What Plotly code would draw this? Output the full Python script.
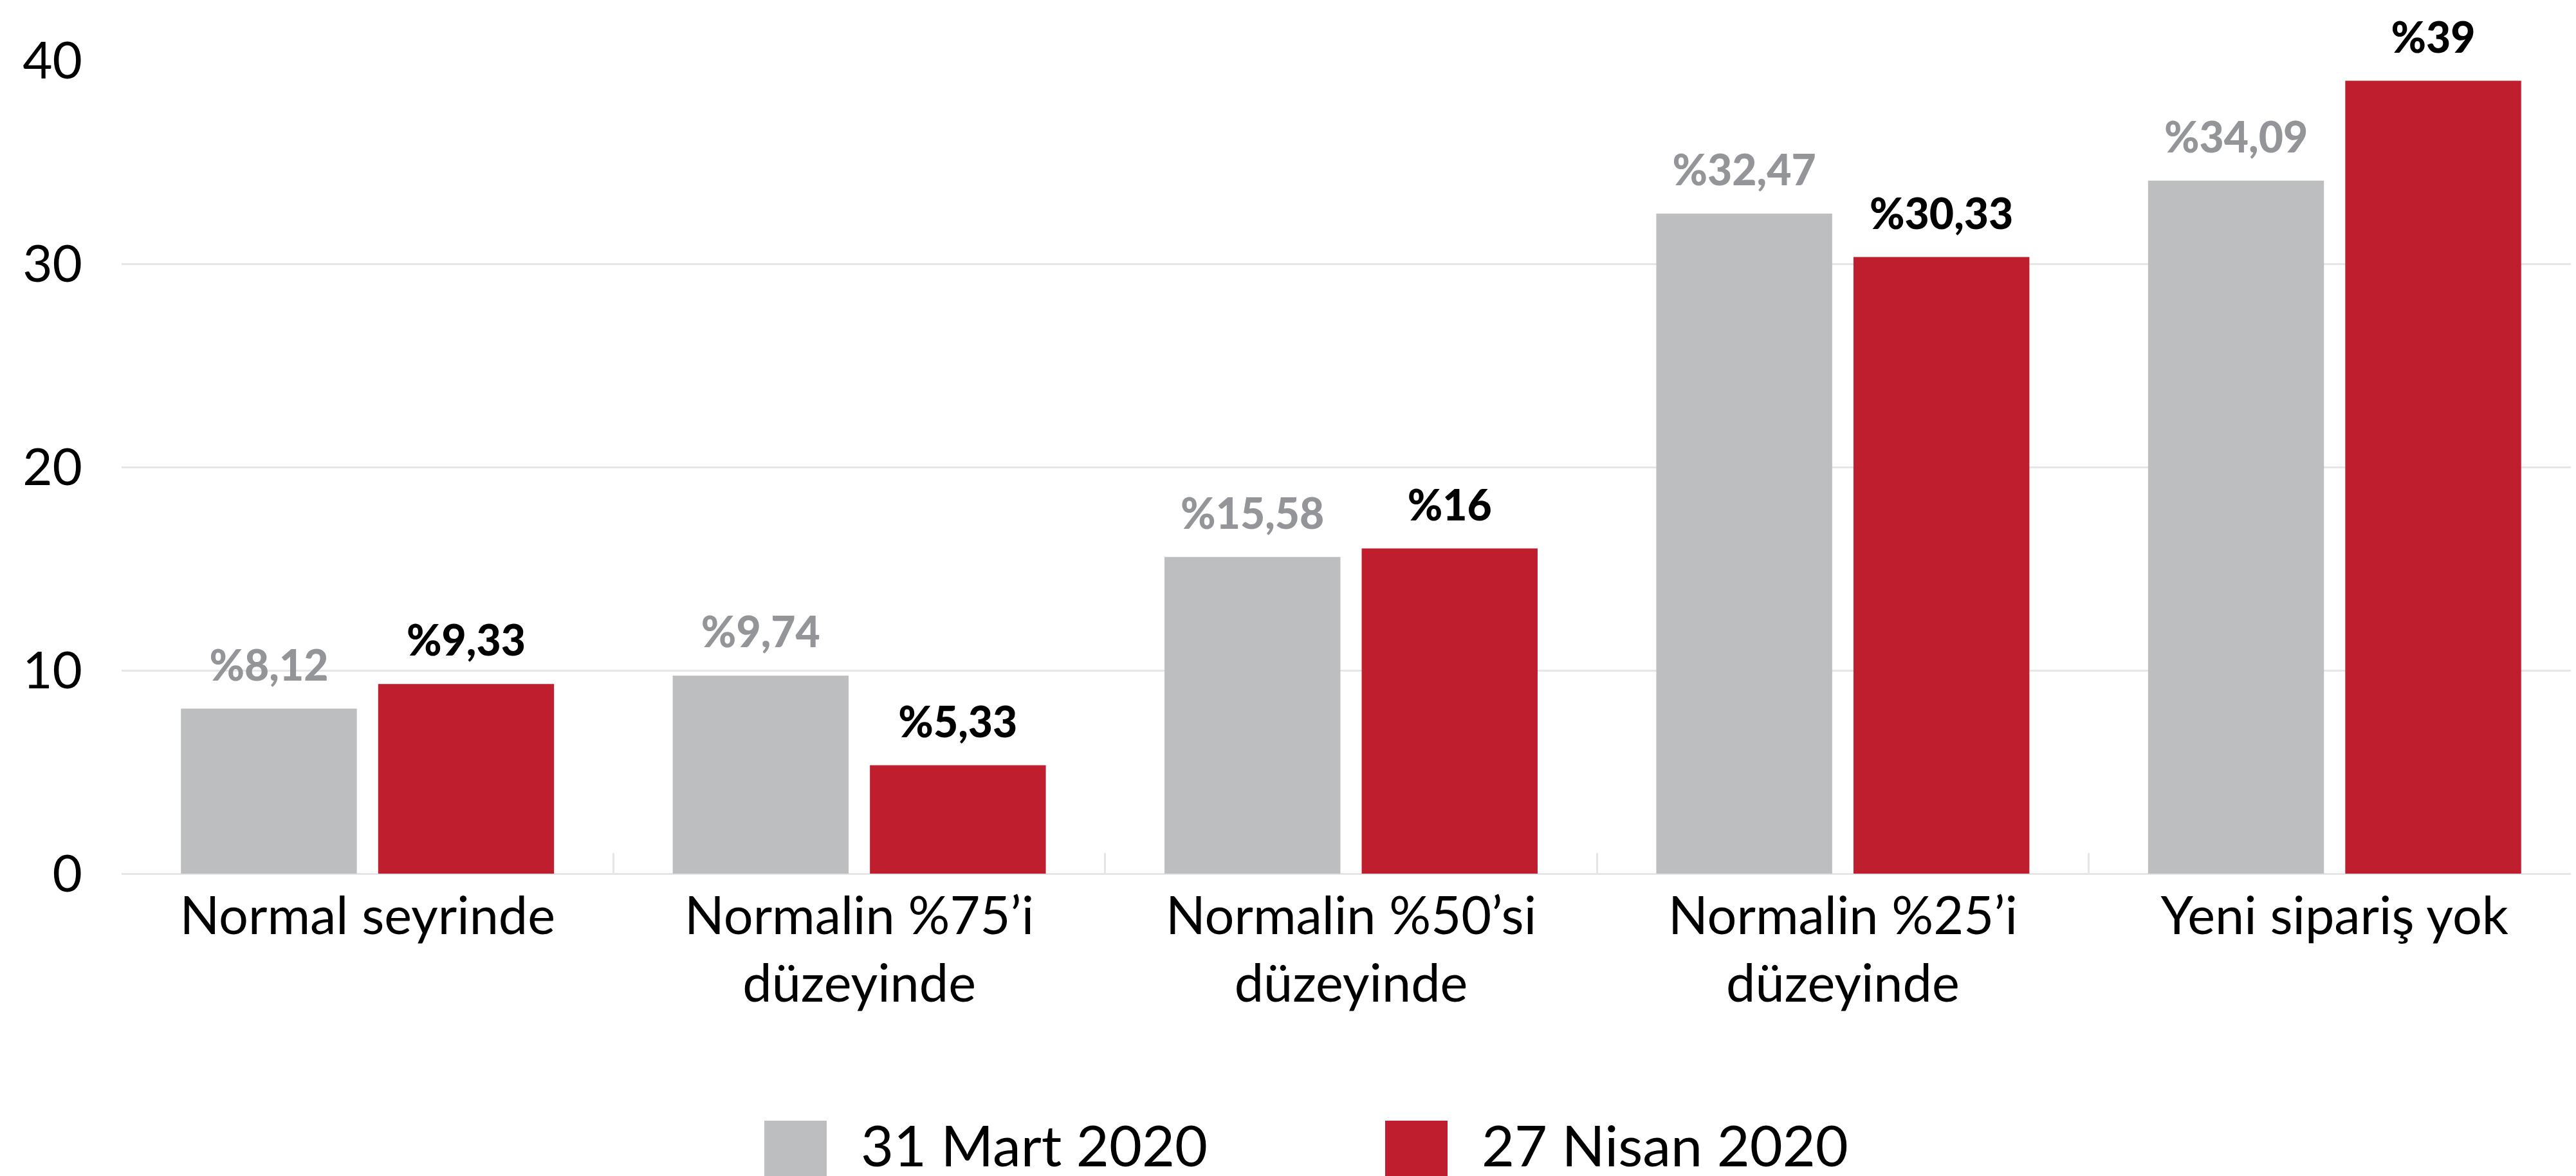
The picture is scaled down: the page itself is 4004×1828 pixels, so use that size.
import plotly.graph_objects as go

categories = [
    "Normal seyrinde",
    "Normalin %75’i<br>düzeyinde",
    "Normalin %50’si<br>düzeyinde",
    "Normalin %25’i<br>düzeyinde",
    "Yeni sipariş yok",
]
series_names = ["31 Mart 2020", "27 Nisan 2020"]
mart_values = [8.12, 9.74, 15.58, 32.47, 34.09]
nisan_values = [9.33, 5.33, 16, 30.33, 39]
y_ticks = [0, 10, 20, 30, 40]

GREY = "#bcbec0"
RED = "#be1e2d"
LABEL_GREY = "#939598"
GRID = "#e6e6e6"
FONT = "Lato"

# plot area in pixels (figure is 4004x1828)
W, H = 4004, 1828
L, R, T, B = 181, 1, 86, 478
PW, PH = W - L - R, H - T - B

BARGAP = 0.198


def pct(v):
    return "%" + f"{v:g}".replace(".", ",")


def px_x(p):
    return (p - L) / PW


def px_y(p):
    return (H - B - p) / PH


fig = go.Figure()
for name, vals, color, tcolor in [
    (series_names[0], mart_values, GREY, LABEL_GREY),
    (series_names[1], nisan_values, RED, "#000000"),
]:
    fig.add_trace(
        go.Bar(
            x=categories,
            y=vals,
            name=name,
            marker={"color": color, "line": {"width": 0}},
            offsetgroup=name,
            showlegend=False,
            hoverinfo="skip",
        )
    )
    # value labels above the bars
    fig.add_trace(
        go.Scatter(
            x=categories,
            y=vals,
            mode="markers+text",
            text=[pct(v) for v in vals],
            textposition="top center",
            textfont={"family": FONT, "size": 66, "color": tcolor, "weight": 900},
            marker={"size": 42, "opacity": 0},
            offsetgroup=name,
            cliponaxis=False,
            showlegend=False,
            hoverinfo="skip",
        )
    )

# hand-made legend with big square swatches
legend_items = [
    (series_names[0], GREY, 1180, 1328),
    (series_names[1], RED, 2145, 2293),
]
for name, color, box_left, text_left in legend_items:
    fig.add_shape(
        type="rect",
        xref="paper",
        yref="paper",
        x0=px_x(box_left),
        x1=px_x(box_left + 97),
        y0=px_y(1734),
        y1=px_y(1840),
        fillcolor=color,
        line={"width": 0},
    )
    fig.add_annotation(
        xref="paper",
        yref="paper",
        x=px_x(text_left),
        y=px_y(1771),
        xanchor="left",
        yanchor="middle",
        text=name,
        showarrow=False,
        font={"family": FONT, "size": 88, "color": "#000000"},
    )

fig.update_layout(
    width=W,
    height=H,
    margin={"l": L, "r": R, "t": T, "b": B, "pad": 0},
    paper_bgcolor="white",
    plot_bgcolor="white",
    barmode="group",
    bargap=BARGAP,
    bargroupgap=0.108,
    scattermode="group",
    scattergap=BARGAP,
    showlegend=False,
    font={"family": FONT, "color": "#000000"},
)
fig.update_xaxes(
    type="category",
    tickson="boundaries",
    ticks="inside",
    ticklen=32,
    tickwidth=3,
    tickcolor=GRID,
    showline=False,
    showgrid=False,
    tickfont={"family": FONT, "size": 81, "color": "#000000"},
    ticklabelstandoff=12,
)
fig.update_yaxes(
    range=[0, 40],
    tickvals=y_ticks,
    showgrid=True,
    gridcolor=GRID,
    gridwidth=3,
    zeroline=True,
    zerolinecolor=GRID,
    zerolinewidth=3,
    ticks="",
    tickfont={"family": FONT, "size": 80, "color": "#000000"},
    ticklabelstandoff=60,
)

fig.write_html("out.html")
